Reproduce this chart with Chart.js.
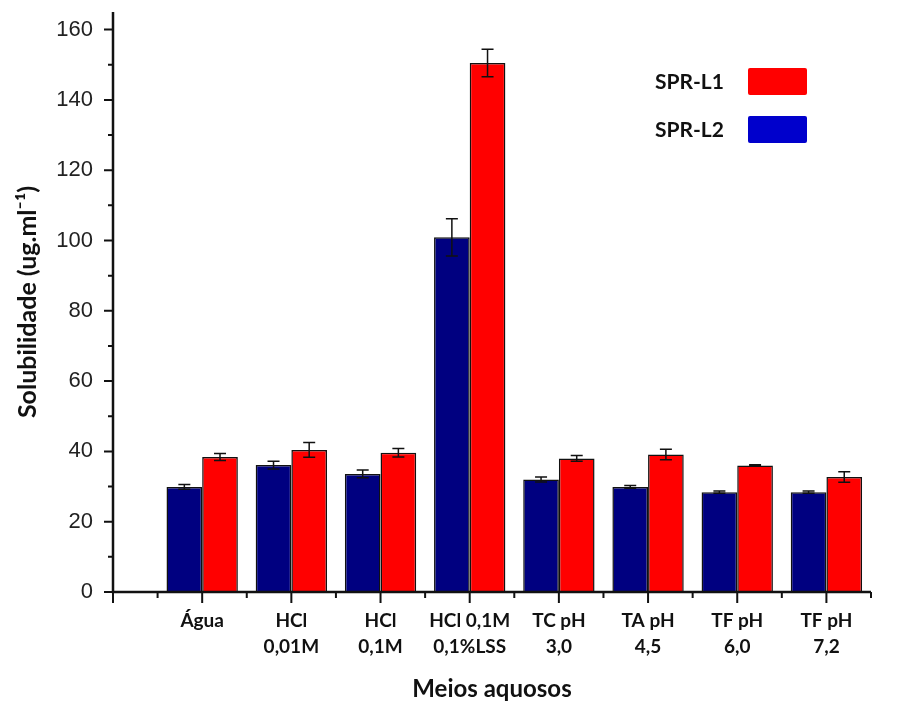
<!DOCTYPE html>
<html>
<head>
<meta charset="utf-8">
<script src="https://cdn.jsdelivr.net/npm/chart.js@4.4.1/dist/chart.umd.min.js"></script>
<style>
  html, body { margin: 0; padding: 0; background: #fff; }
  #wrap { width: 905px; height: 706px; position: relative; }
</style>
</head>
<body>
<div id="wrap"><canvas id="solChart"></canvas></div>
<script>
// data
const categories = [['Água'], ['HCl', '0,01M'], ['HCl', '0,1M'], ['HCl 0,1M', '0,1%LSS'], ['TC pH', '3,0'], ['TA pH', '4,5'], ['TF pH', '6,0'], ['TF pH', '7,2']];
const sprL2 = [29.9, 36.1, 33.6, 100.9, 32.0, 29.9, 28.4, 28.4];
const sprL2Err = [0.7, 1.1, 1.1, 5.3, 0.7, 0.4, 0.3, 0.3];
const sprL1 = [38.4, 40.4, 39.6, 150.5, 38.0, 39.1, 36.0, 32.7];
const sprL1Err = [1.0, 2.1, 1.2, 3.9, 0.8, 1.5, 0.2, 1.5];
const yTicks = [0, 20, 40, 60, 80, 100, 120, 140, 160];

// axis lines + major/minor ticks pointing outward
const axesPlugin = {
    id: 'axes',
    afterDatasetsDraw(chart) {
        const ctx = chart.ctx;
        const x = chart.scales.x, y = chart.scales.y;
        const left = x.getPixelForValue(0), right = x.getPixelForValue(8.5);
        const bottom = y.getPixelForValue(0), top = chart.chartArea.top;
        ctx.save();
        ctx.strokeStyle = '#111';
        ctx.lineWidth = 2.5;
        ctx.beginPath();
        ctx.moveTo(left, top);
        ctx.lineTo(left, bottom);
        ctx.lineTo(right, bottom);
        ctx.stroke();
        ctx.lineWidth = 2;
        ctx.beginPath();
        for (let v = 0; v <= 8.5; v += 0.5) {
            const px = x.getPixelForValue(v);
            ctx.moveTo(px, bottom);
            ctx.lineTo(px, bottom + (v % 1 === 0 ? 11 : 6));
        }
        for (let v = 0; v <= 160; v += 10) {
            const py = y.getPixelForValue(v);
            ctx.moveTo(left, py);
            ctx.lineTo(left - (v % 20 === 0 ? 9 : 5), py);
        }
        ctx.stroke();
        ctx.restore();
    }
};

// error bars
const errorPlugin = {
    id: 'errors',
    afterDatasetsDraw(chart) {
        const ctx = chart.ctx;
        const y = chart.scales.y;
        const errs = [sprL2Err, sprL1Err];
        ctx.save();
        ctx.strokeStyle = '#111';
        ctx.lineWidth = 1.5;
        chart.data.datasets.forEach((ds, di) => {
            chart.getDatasetMeta(di).data.forEach((bar, i) => {
                const v = ds.data[i].y, e = errs[di][i];
                const y1 = y.getPixelForValue(v + e), y2 = y.getPixelForValue(v - e);
                ctx.beginPath();
                ctx.moveTo(bar.x, y1); ctx.lineTo(bar.x, y2);
                ctx.moveTo(bar.x - 6, y1); ctx.lineTo(bar.x + 6, y1);
                ctx.moveTo(bar.x - 6, y2); ctx.lineTo(bar.x + 6, y2);
                ctx.stroke();
            });
        });
        ctx.restore();
    }
};

// legend in the upper right, text left of the swatch
const legendPlugin = {
    id: 'sideLegend',
    afterDraw(chart) {
        const ctx = chart.ctx;
        const items = [['SPR-L1', '#ff0000', 82], ['SPR-L2', '#0000cc', 130]];
        ctx.save();
        ctx.font = 'bold 21px Lato';
        ctx.textBaseline = 'middle';
        items.forEach(([label, color, cy]) => {
            ctx.fillStyle = '#111';
            ctx.fillText(label, 655, cy);
            ctx.fillStyle = color;
            ctx.beginPath();
            ctx.roundRect(748, cy - 14, 59, 27, 2);
            ctx.fill();
        });
        ctx.restore();
    }
};

const ctx = document.getElementById('solChart').getContext('2d');
new Chart(ctx, {
    type: 'bar',
    data: {
        datasets: [{
            label: 'SPR-L2',
            data: sprL2.map((v, i) => ({x: i + 1, y: v})),
            backgroundColor: '#000080',
            borderColor: '#111',
            borderWidth: 1.5
        }, {
            label: 'SPR-L1',
            data: sprL1.map((v, i) => ({x: i + 1, y: v})),
            backgroundColor: '#ff0000',
            borderColor: '#111',
            borderWidth: 1.5
        }]
    },
    options: {
        responsive: true,
        maintainAspectRatio: false,
        animation: false,
        layout: { padding: { top: 12, right: 34, bottom: 0, left: 0 } },
        categoryPercentage: 0.8,
        barPercentage: 1.0,
        plugins: {
            legend: { display: false },
            tooltip: { enabled: false }
        },
        scales: {
            x: {
                type: 'linear',
                min: 0,
                max: 8.5,
                offset: false,
                grid: { display: false, drawTicks: false },
                border: { display: false },
                afterBuildTicks: s => { s.ticks = categories.map((c, i) => ({value: i + 1})); },
                afterFit: s => { s.height = 114; s.paddingLeft = 0; s.paddingRight = 0; },
                ticks: {
                    autoSkip: false,
                    maxRotation: 0,
                    padding: 16,
                    color: '#111',
                    font: { family: 'Lato', weight: 'bold', size: 19, lineHeight: 1.35 },
                    callback: v => categories[v - 1]
                },
                title: {
                    display: true,
                    text: 'Meios aquosos',
                    color: '#111',
                    font: { family: 'Lato', weight: 'bold', size: 24 },
                    padding: { top: 0, bottom: 2 }
                }
            },
            y: {
                min: 0,
                max: 165,
                grid: { display: false, drawTicks: false },
                border: { display: false },
                afterBuildTicks: s => { s.ticks = yTicks.map(v => ({value: v})); },
                afterFit: s => { s.width = 113; s.paddingTop = 0; s.paddingBottom = 0; },
                ticks: {
                    autoSkip: false,
                    padding: 20,
                    color: '#222',
                    font: { family: 'Liberation Sans', size: 22 },
                    callback: v => v
                },
                title: {
                    display: true,
                    text: 'Solubilidade (ug.ml⁻¹)',
                    color: '#111',
                    font: { family: 'Lato', weight: 'bold', size: 25 },
                    padding: { top: 13, bottom: 0 }
                }
            }
        }
    },
    plugins: [axesPlugin, errorPlugin, legendPlugin]
});
</script>
</body>
</html>
